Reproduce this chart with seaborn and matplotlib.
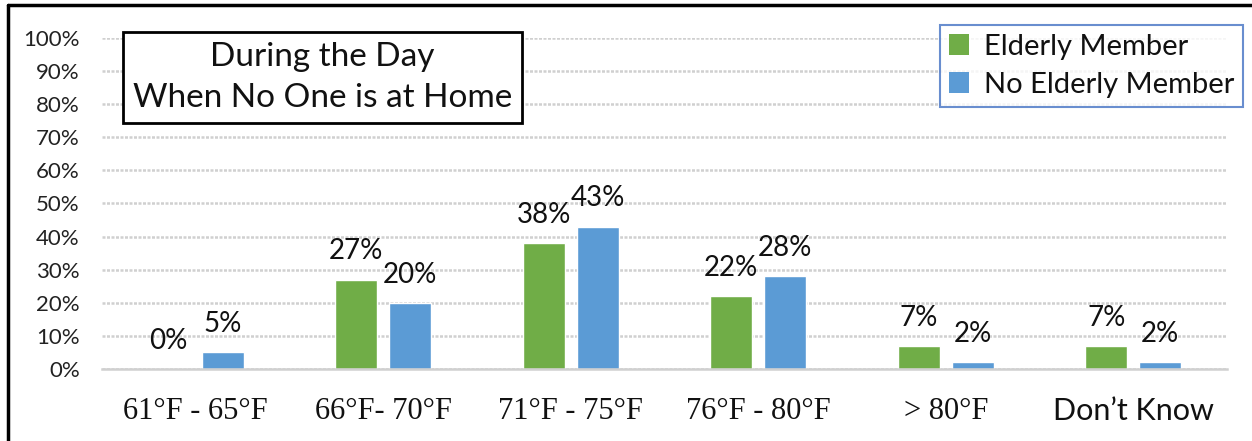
import matplotlib
matplotlib.use("Agg")
import matplotlib.pyplot as plt
from matplotlib.lines import Line2D
from matplotlib.patches import Patch
import pandas as pd
import seaborn as sns

# Thermostat settings during the day when no one is at home
categories = ["61°F - 65°F", "66°F- 70°F", "71°F - 75°F", "76°F - 80°F", "> 80°F", "Don\u2019t Know"]
elderly = [0, 27, 38, 22, 7, 7]
no_elderly = [5, 20, 43, 28, 2, 2]
series_names = ["Elderly Member", "No Elderly Member"]
y_ticks = [0, 10, 20, 30, 40, 50, 60, 70, 80, 90, 100]

GREEN = "#70AD47"
BLUE = "#5B9BD5"

df = pd.DataFrame({
    "category": categories * 2,
    "value": elderly + no_elderly,
    "series": [series_names[0]] * len(categories) + [series_names[1]] * len(categories),
})

sns.set_theme(style="white")
plt.rcParams["font.family"] = ["Lato", "DejaVu Sans"]

fig = plt.figure(figsize=(12.52, 4.41), dpi=100)
ax = fig.add_axes([0.0815, 0.1633, 0.8985, 0.7505])

sns.barplot(data=df, x="category", y="value", hue="series", order=categories,
            hue_order=series_names, palette=[GREEN, BLUE], width=0.576, gap=0.22,
            saturation=1, legend=False, ax=ax, errorbar=None)

ax.set_ylim(0, 100)
ax.set_xlim(-0.5, len(categories) - 0.5)
ax.set_yticks(y_ticks)
ax.set_yticklabels([f"{t}%" for t in y_ticks], fontsize=16, color="#222222")
ax.set_xlabel("")
ax.set_ylabel("")
ax.tick_params(axis="y", length=0, pad=16)
ax.tick_params(axis="x", length=0, pad=20)
for lbl in ax.get_xticklabels():
    if lbl.get_text() == "Don\u2019t Know":
        lbl.set_fontfamily(["Lato", "DejaVu Sans"])
    else:
        lbl.set_fontfamily(["Liberation Serif", "DejaVu Serif"])
    lbl.set_fontsize(22)
    lbl.set_color("#111111")

ax.grid(axis="y", color="#D0D0D0", linewidth=1.8, linestyle=(0, (1.2, 0.6)))
ax.set_axisbelow(True)
for side in ["top", "right", "left"]:
    ax.spines[side].set_visible(False)
ax.spines["bottom"].set_color("#D0D0D0")
ax.spines["bottom"].set_linewidth(1.8)

for cont in ax.containers:
    ax.bar_label(cont, labels=[f"{v:.0f}%" for v in cont.datavalues],
                 padding=11, fontsize=20, color="#111111")

# Title box
ax.text(0.196, 0.88, "During the Day\nWhen No One is at Home", transform=ax.transAxes,
        ha="center", va="center", fontsize=24, color="#111111", linespacing=1.45,
        bbox=dict(boxstyle="square,pad=0.3", facecolor="white", edgecolor="black", linewidth=2))

# Legend
handles = [Patch(facecolor=GREEN, edgecolor="none"), Patch(facecolor=BLUE, edgecolor="none")]
leg = ax.legend(handles, series_names, loc="upper right", bbox_to_anchor=(1.0142, 1.04),
                fontsize=21, frameon=True, fancybox=False, handlelength=0.7, handleheight=0.7,
                handletextpad=0.5, borderpad=0.3, labelspacing=0.42, borderaxespad=0)
leg.get_frame().set_edgecolor("#4472C4")
leg.get_frame().set_linewidth(1.5)
for t in leg.get_texts():
    t.set_color("#111111")

# Outer chart frame
fig.add_artist(Line2D([8 / 1252, 8 / 1252], [0, 1 - 5 / 441], transform=fig.transFigure,
                      color="black", linewidth=2.5))
fig.add_artist(Line2D([8 / 1252, 1], [1 - 5 / 441, 1 - 5 / 441], transform=fig.transFigure,
                      color="black", linewidth=2.5))

fig.savefig("out.png", dpi=100)
